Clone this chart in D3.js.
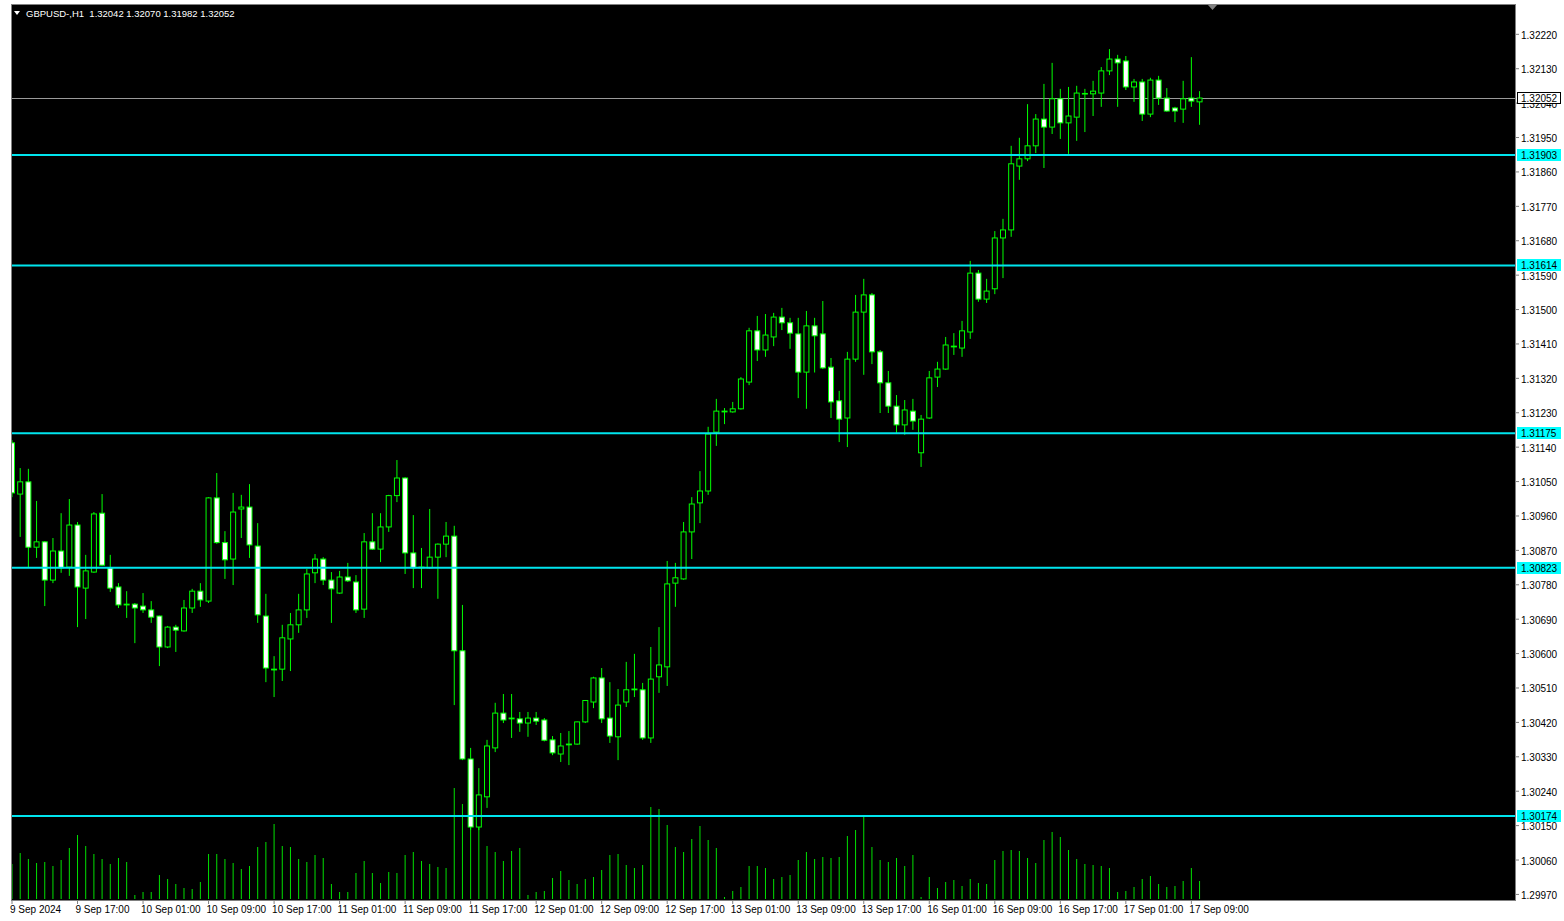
<!DOCTYPE html>
<html>
<head>
<meta charset="utf-8">
<script src="https://cdn.jsdelivr.net/npm/d3@7"></script>
<style>
  body { margin: 0; background: #ffffff; }
  svg { display: block; }
  text { font-family: "Liberation Sans", Arial, sans-serif; }
</style>
</head>
<body>
<div id="container"></div>
<script>
const width = 1564, height = 921;
const plot = { left: 11, right: 1515, top: 4, bottom: 900 };

/* DATA */
const symbol = "GBPUSD-,H1";

const open = [
  1.31150,1.31016,1.31048,1.30877,1.30891,1.30791,1.30867,1.30825,1.30935,1.30770,
  1.30812,1.30966,1.30823,1.30773,1.30726,1.30728,1.30723,1.30713,1.30697,1.30616,
  1.30668,1.30658,1.30718,1.30762,1.30736,1.31006,1.30889,1.30846,1.30977,1.30982,
  1.30880,1.30697,1.30558,1.30558,1.30637,1.30674,1.30713,1.30810,1.30846,1.30791,
  1.30757,1.30799,1.30786,1.30715,1.30891,1.30872,1.30930,1.31012,1.31058,1.30862,
  1.30823,1.30823,1.30851,1.30885,1.30906,1.30606,1.30323,1.30145,1.30224,1.30352,
  1.30443,1.30428,1.30428,1.30417,1.30430,1.30425,1.30373,1.30336,1.30360,1.30362,
  1.30420,1.30472,1.30535,1.30430,1.30381,1.30472,1.30504,1.30504,1.30378,1.30538,
  1.30564,1.30783,1.30794,1.30917,1.30993,1.31024,1.31178,1.31231,1.31231,1.31239,
  1.31309,1.31443,1.31393,1.31427,1.31479,1.31464,1.31435,1.31335,1.31456,1.31435,
  1.31348,1.31260,1.31215,1.31369,1.31492,1.31537,1.31388,1.31307,1.31246,1.31197,
  1.31233,1.31124,1.31215,1.31322,1.31343,1.31403,1.31398,1.31440,1.31594,1.31526,
  1.31553,1.31686,1.31707,1.31874,1.31893,1.31927,1.31997,1.31976,1.32050,1.31987,
  1.32002,1.32063,1.32063,1.32065,1.32123,1.32154,1.32149,1.32081,1.32094,1.32010,
  1.32099,1.32052,1.32026,1.32023,1.32052,1.32042]

const high = [
  1.31157,1.31084,1.31082,1.30998,1.30893,1.30901,1.30966,1.31003,1.30943,1.30857,
  1.30969,1.31016,1.30857,1.30783,1.30762,1.30731,1.30757,1.30736,1.30698,1.30671,
  1.30674,1.30739,1.30768,1.30783,1.31008,1.31071,1.30919,1.31019,1.31014,1.31042,
  1.30940,1.30755,1.30592,1.30674,1.30705,1.30755,1.30820,1.30859,1.30851,1.30812,
  1.30815,1.30836,1.30804,1.30914,1.30966,1.30966,1.31014,1.31105,1.31060,1.30961,
  1.30875,1.30977,1.30887,1.30943,1.30933,1.30726,1.30352,1.30299,1.30373,1.30470,
  1.30493,1.30493,1.30446,1.30446,1.30446,1.30430,1.30383,1.30391,1.30396,1.30421,
  1.30477,1.30538,1.30561,1.30524,1.30506,1.30577,1.30598,1.30522,1.30616,1.30668,
  1.30841,1.30836,1.30943,1.31008,1.31076,1.31192,1.31265,1.31241,1.31257,1.31322,
  1.31451,1.31482,1.31487,1.31490,1.31503,1.31477,1.31477,1.31495,1.31477,1.31521,
  1.31372,1.31286,1.31388,1.31537,1.31579,1.31542,1.31393,1.31338,1.31275,1.31262,
  1.31265,1.31223,1.31338,1.31362,1.31427,1.31437,1.31469,1.31626,1.31602,1.31579,
  1.31704,1.31736,1.31927,1.31948,1.32036,1.32010,1.32089,1.32144,1.32076,1.32081,
  1.32084,1.32076,1.32097,1.32133,1.32180,1.32165,1.32162,1.32102,1.32102,1.32105,
  1.32110,1.32078,1.32029,1.32097,1.32159,1.32070]

const low = [
  1.31008,1.30904,1.30823,1.30849,1.30723,1.30783,1.30810,1.30802,1.30668,1.30689,
  1.30810,1.30828,1.30760,1.30718,1.30692,1.30626,1.30705,1.30679,1.30566,1.30613,
  1.30603,1.30656,1.30705,1.30721,1.30731,1.30886,1.30794,1.30778,1.30901,1.30849,
  1.30679,1.30524,1.30485,1.30527,1.30553,1.30653,1.30692,1.30783,1.30778,1.30679,
  1.30755,1.30786,1.30705,1.30692,1.30870,1.30838,1.30917,1.30995,1.30807,1.30770,
  1.30770,1.30821,1.30742,1.30851,1.30464,1.30320,1.30137,1.30137,1.30195,1.30341,
  1.30417,1.30378,1.30394,1.30381,1.30412,1.30369,1.30333,1.30315,1.30307,1.30360,
  1.30417,1.30456,1.30417,1.30365,1.30320,1.30459,1.30485,1.30373,1.30365,1.30496,
  1.30514,1.30721,1.30792,1.30846,1.30940,1.31014,1.31142,1.31199,1.31229,1.31237,
  1.31301,1.31364,1.31375,1.31403,1.31445,1.31396,1.31267,1.31239,1.31334,1.31343,
  1.31215,1.31152,1.31139,1.31362,1.31328,1.31356,1.31228,1.31228,1.31176,1.31171,
  1.31184,1.31087,1.31213,1.31296,1.31341,1.31380,1.31375,1.31422,1.31519,1.31516,
  1.31539,1.31581,1.31689,1.31838,1.31887,1.31908,1.31869,1.31958,1.31945,1.31906,
  1.31940,1.31963,1.32005,1.32029,1.32112,1.32029,1.32073,1.32042,1.31992,1.32002,
  1.32034,1.32016,1.31989,1.31987,1.32029,1.31982]

const close = [
  1.31019,1.31048,1.30877,1.30891,1.30791,1.30867,1.30823,1.30935,1.30773,1.30815,
  1.30964,1.30830,1.30770,1.30726,1.30728,1.30718,1.30713,1.30694,1.30616,1.30668,
  1.30660,1.30718,1.30762,1.30739,1.31006,1.30889,1.30844,1.30969,1.30982,1.30883,
  1.30700,1.30561,1.30556,1.30640,1.30674,1.30713,1.30807,1.30846,1.30791,1.30768,
  1.30799,1.30789,1.30713,1.30891,1.30872,1.30930,1.31012,1.31058,1.30862,1.30823,
  1.30825,1.30851,1.30885,1.30906,1.30606,1.30323,1.30145,1.30229,1.30357,1.30443,
  1.30425,1.30430,1.30417,1.30430,1.30422,1.30372,1.30339,1.30357,1.30362,1.30420,
  1.30476,1.30535,1.30428,1.30383,1.30464,1.30504,1.30506,1.30378,1.30532,1.30569,
  1.30781,1.30797,1.30917,1.30990,1.31024,1.31173,1.31233,1.31233,1.31239,1.31317,
  1.31443,1.31393,1.31432,1.31479,1.31464,1.31437,1.31335,1.31456,1.31430,1.31346,
  1.31257,1.31212,1.31369,1.31492,1.31537,1.31388,1.31307,1.31246,1.31197,1.31236,
  1.31207,1.31212,1.31320,1.31343,1.31406,1.31401,1.31443,1.31594,1.31526,1.31547,
  1.31686,1.31707,1.31880,1.31893,1.31927,1.31997,1.31976,1.32050,1.31987,1.32005,
  1.32065,1.32064,1.32070,1.32123,1.32154,1.32144,1.32081,1.32094,1.32010,1.32099,
  1.32052,1.32018,1.32018,1.32050,1.32044,1.32052]

const volume = [
  875,1150,1000,900,925,825,975,1275,1600,1325,
  1125,1000,875,1025,925,100,175,175,600,500,
  375,275,250,425,1125,1125,1000,900,750,825,
  1300,1425,1875,1325,1300,1000,925,1100,1025,375,
  175,175,650,950,650,400,675,650,1100,1175,
  950,875,800,775,2775,2375,2500,1875,1325,1175,
  950,1200,1275,100,175,200,525,700,475,375,
  500,550,725,1100,1125,850,775,850,2300,2250,
  1850,1300,1175,1500,1825,1475,1275,50,200,300,
  825,825,775,500,550,600,975,1175,1000,1050,
  1025,1050,1575,1725,2075,1300,975,925,1025,825,
  1100,50,550,275,425,475,325,500,400,375,
  975,1200,1225,1200,1025,900,1475,1675,1550,1225,
  1000,875,850,825,775,175,200,300,500,575,
  375,300,325,450,775,450]

const levels = [1.31903, 1.31614, 1.31175, 1.30823, 1.30174]
const bid = 1.32052

const priceTicks = [1.32220,1.32130,1.32040,1.31950,1.31860,1.31770,1.31680,1.31590,
  1.31500,1.31410,1.31320,1.31230,1.31140,1.31050,1.30960,1.30870,1.30780,1.30690,
  1.30600,1.30510,1.30420,1.30330,1.30240,1.30150,1.30060,1.29970]

const timeLabels = ["9 Sep 2024","9 Sep 17:00","10 Sep 01:00","10 Sep 09:00","10 Sep 17:00",
  "11 Sep 01:00","11 Sep 09:00","11 Sep 17:00","12 Sep 01:00","12 Sep 09:00","12 Sep 17:00",
  "13 Sep 01:00","13 Sep 09:00","13 Sep 17:00","16 Sep 01:00","16 Sep 09:00","16 Sep 17:00",
  "17 Sep 01:00","17 Sep 09:00"]

// hourly bars, weekend hours skipped
const parse = d3.utcParse("%Y-%m-%d %H:%M")
const times = []
let t = parse("2024-09-09 09:00")
while (times.length < close.length) {
  const day = t.getUTCDay()
  if (day !== 0 && day !== 6) times.push(t)
  t = d3.utcHour.offset(t, 1)
}

const bars = times.map((d, i) => ({
  t: d, o: open[i], h: high[i], l: low[i], c: close[i], v: volume[i]
}))

/* SCALES */
const step = 8.19
const xScale = d3.scaleBand()
  .domain(times)
  .range([12 - step / 2, 12 - step / 2 + step * times.length])

const cx = d => xScale(d.t) + xScale.bandwidth() / 2

const yScale = d3.scaleLinear()
  .domain([1.299541, 1.32298])
  .range([plot.bottom, plot.top])

const vScale = d3.scaleLinear()
  .domain([0, d3.max(volume)])
  .range([plot.bottom - 1, plot.bottom - 112])

/* SVG */
const svg = d3.select("#container").append("svg")
  .attr("width", width)
  .attr("height", height)

svg.append("rect")
  .attr("x", plot.left)
  .attr("y", plot.top)
  .attr("width", plot.right - plot.left)
  .attr("height", plot.bottom - plot.top)
  .attr("fill", "#000")

svg.append("clipPath").attr("id", "clip")
  .append("rect")
  .attr("x", plot.left + 1)
  .attr("y", plot.top + 1)
  .attr("width", plot.right - plot.left - 1)
  .attr("height", plot.bottom - plot.top - 1)

const g = svg.append("g").attr("clip-path", "url(#clip)")

// volumes
g.selectAll("line.vol")
  .data(bars)
  .join("line")
  .attr("class", "vol")
  .attr("x1", cx).attr("x2", cx)
  .attr("y1", vScale(0))
  .attr("y2", d => vScale(d.v))
  .attr("stroke", "#00e000")
  .attr("stroke-width", 1)

// bid line
g.append("line")
  .attr("x1", plot.left).attr("x2", plot.right)
  .attr("y1", Math.round(yScale(bid)) + 0.5)
  .attr("y2", Math.round(yScale(bid)) + 0.5)
  .attr("stroke", "#9a9a9a")

// wicks
g.selectAll("line.wick")
  .data(bars)
  .join("line")
  .attr("class", "wick")
  .attr("x1", cx).attr("x2", cx)
  .attr("y1", d => yScale(d.h))
  .attr("y2", d => yScale(d.l))
  .attr("stroke", "#00ff00")

// bodies
g.selectAll("rect.body")
  .data(bars)
  .join("rect")
  .attr("class", "body")
  .attr("x", d => cx(d) - 2.5)
  .attr("width", 5)
  .attr("y", d => yScale(Math.max(d.o, d.c)))
  .attr("height", d => Math.max(0.6, Math.abs(yScale(d.o) - yScale(d.c))))
  .attr("fill", d => d.c < d.o ? "#ffffff" : "#000000")
  .attr("stroke", "#00ff00")
  .attr("stroke-width", 1)

// horizontal levels
g.selectAll("line.level")
  .data(levels)
  .join("line")
  .attr("class", "level")
  .attr("x1", plot.left).attr("x2", plot.right)
  .attr("y1", d => yScale(d))
  .attr("y2", d => yScale(d))
  .attr("stroke", "#00e5ee")
  .attr("stroke-width", 2)

// header
svg.append("path")
  .attr("d", "M14,11 L20,11 L17,15 Z")
  .attr("fill", "#ffffff")
svg.append("text")
  .attr("x", 26)
  .attr("y", 17)
  .attr("fill", "#ffffff")
  .attr("font-size", "9.5px")
  .attr("xml:space", "preserve")
  .text(`${symbol}  ${open[open.length - 1].toFixed(5)} ${high[high.length - 1].toFixed(5)} ${low[low.length - 1].toFixed(5)} ${close[close.length - 1].toFixed(5)}`)

// chart shift marker
svg.append("path")
  .attr("d", "M1208,5 L1217,5 L1212.5,10 Z")
  .attr("fill", "#808080")

/* AXES */
const xAxis = d3.axisBottom(xScale)
  .tickValues(times.filter((d, i) => i % 8 === 0))
  .tickFormat((d, i) => timeLabels[i])
  .tickSize(4)

const gx = svg.append("g")
  .attr("class", "x-axis")
  .attr("transform", `translate(0,${plot.bottom})`)
  .call(xAxis)
gx.select(".domain").remove()
gx.selectAll(".tick line").attr("stroke", "#808080")
gx.selectAll(".tick text")
  .attr("text-anchor", "start")
  .attr("x", -2)
  .attr("y", 6)
  .attr("fill", "#000")
  .attr("font-size", "10px")
  .attr("font-family", "Liberation Sans, Arial, sans-serif")

const yAxis = d3.axisRight(yScale)
  .tickValues(priceTicks)
  .tickFormat(d3.format(".5f"))
  .tickSize(4)

const gy = svg.append("g")
  .attr("class", "y-axis")
  .attr("transform", `translate(${plot.right},0)`)
  .call(yAxis)
gy.select(".domain").remove()
gy.selectAll(".tick line").attr("stroke", "#808080")
gy.selectAll(".tick text")
  .attr("x", 6)
  .attr("dy", "0.45em")
  .attr("fill", "#000")
  .attr("font-size", "10px")
  .attr("font-family", "Liberation Sans, Arial, sans-serif")

// frame
svg.append("rect")
  .attr("x", plot.left + 0.5)
  .attr("y", plot.top + 0.5)
  .attr("width", plot.right - plot.left)
  .attr("height", plot.bottom - plot.top)
  .attr("fill", "none")
  .attr("stroke", "#808080")

// price tags on the axis
const tags = [{ p: bid, fill: "#ffffff", stroke: "#000000" }]
  .concat(levels.map(p => ({ p: p, fill: "#00ffff", stroke: "#00ffff" })))

const tag = svg.selectAll("g.tag")
  .data(tags)
  .join("g")
  .attr("class", "tag")
  .attr("transform", d => `translate(${plot.right + 2},${Math.round(yScale(d.p))})`)

tag.append("rect")
  .attr("x", 0.5).attr("y", -5.5)
  .attr("width", 43).attr("height", 11)
  .attr("fill", d => d.fill)
  .attr("stroke", d => d.stroke)

tag.append("text")
  .attr("x", 4)
  .attr("y", 4)
  .attr("fill", "#000")
  .attr("font-size", "10px")
  .text(d => d.p.toFixed(5))
</script>
</body>
</html>
